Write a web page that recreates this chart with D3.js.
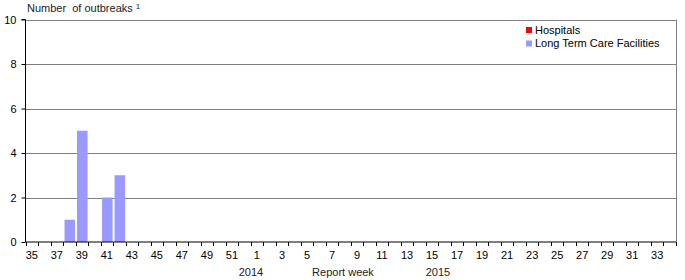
<!DOCTYPE html>
<html><head><meta charset="utf-8">
<script src="https://cdn.jsdelivr.net/npm/d3@7"></script>
<style>
html,body{margin:0;padding:0;background:#fff;}
svg text{font-family:"Liberation Sans",Arial,sans-serif;}
</style></head>
<body><svg id="c" width="685" height="280"></svg>
<script>
const weeks2014 = [35,36,37,38,39,40,41,42,43,44,45,46,47,48,49,50,51,52];
const weeks2015 = [1,2,3,4,5,6,7,8,9,10,11,12,13,14,15,16,17,18,19,20,21,22,23,24,25,26,27,28,29,30,31,32,33,34];
const categories = weeks2014.map(w => "2014-" + w).concat(weeks2015.map(w => "2015-" + w));
const hospitals = {};            // no hospital outbreaks in this period
const ltcfWeeks = ["2014-38","2014-39","2014-41","2014-42"];
const ltcfValues = [1,5,2,3];
const yTicks = [0,2,4,6,8,10];
const seriesNames = ["Hospitals","Long Term Care Facilities"];
const seriesColors = ["#ff0000","#9999ff"];

const svg = d3.select("#c");
const L = 25.5, R = 676, T = 19.5, B = 242;
const x = d3.scaleBand().domain(categories).range([L, R]);
const y = d3.scaleLinear().domain([0,10]).range([B, T]);
const bw = x.bandwidth();

// gridlines
svg.append("g").selectAll("line").data(yTicks.filter(d => d > 0)).join("line")
  .attr("x1", L).attr("x2", R)
  .attr("y1", d => Math.round(y(d)) + 0.5).attr("y2", d => Math.round(y(d)) + 0.5)
  .attr("stroke", "#808080").attr("stroke-width", 1);
// right border
svg.append("line").attr("x1", R + 0.5).attr("x2", R + 0.5).attr("y1", T).attr("y2", B)
  .attr("stroke", "#808080");

// bars
svg.append("g").selectAll("rect").data(ltcfWeeks.map((c,i) => ({c, v: ltcfValues[i]}))).join("rect")
  .attr("x", d => x(d.c) + bw * 0.12)
  .attr("width", bw * 0.84)
  .attr("y", d => y(d.v))
  .attr("height", d => y(0) - y(d.v))
  .attr("fill", seriesColors[1]);

// y axis
const ya = svg.append("g").attr("transform", `translate(${L},0)`)
  .call(d3.axisLeft(y).tickValues(yTicks).tickSize(4).tickPadding(5).tickFormat(d3.format("d")));
ya.select(".domain").attr("stroke", "#000").attr("d", `M-4,${T}H0V${B}`);
ya.selectAll(".tick line").attr("stroke", "#000");
ya.selectAll("text").attr("font-size", 11).attr("fill", "#000")
  .attr("font-family", "Liberation Sans, Arial, sans-serif");

// x axis
const xa = svg.append("g").attr("transform", `translate(0,${B})`)
  .call(d3.axisBottom(x).tickSize(0).tickPadding(9)
    .tickFormat(c => { const w = +c.split("-")[1]; return (w % 2 === 1) ? String(w) : ""; }));
xa.select(".domain").attr("stroke", "#000").attr("d", `M${L},0H${R}`);
xa.selectAll("text").attr("font-size", 11).attr("fill", "#000")
  .attr("font-family", "Liberation Sans, Arial, sans-serif");
// boundary ticks
xa.append("g").selectAll("line").data(categories.concat(["end"])).join("line")
  .attr("x1", (c,i) => Math.round(i < categories.length ? x(c) : R) + 0.5)
  .attr("x2", (c,i) => Math.round(i < categories.length ? x(c) : R) + 0.5)
  .attr("y1", 0).attr("y2", 4).attr("stroke", "#000");

// x axis titles
const yr = svg.append("g").attr("font-size", 11).attr("fill", "#222").attr("text-anchor", "middle");
yr.append("text").attr("x", 251).attr("y", 276).text("2014");
yr.append("text").attr("x", 343).attr("y", 276).text("Report week");
yr.append("text").attr("x", 438).attr("y", 276).text("2015");

// y title
const t = svg.append("text").attr("x", 27).attr("y", 12).attr("font-size", 11).attr("fill", "#222")
  .style("white-space", "pre");
t.append("tspan").text("Number  of outbreaks ");
t.append("tspan").attr("dy", -3).attr("font-size", 8).text("1");

// legend
const lg = svg.append("g").selectAll("g").data(seriesNames).join("g")
  .attr("transform", (d,i) => `translate(526,${27 + i * 13.5})`);
lg.append("rect").attr("width", 6).attr("height", 6).attr("fill", (d,i) => seriesColors[i]);
lg.append("text").attr("x", 9).attr("y", 6.5).attr("font-size", 11).attr("fill", "#000").text(d => d);
</script></body></html>
